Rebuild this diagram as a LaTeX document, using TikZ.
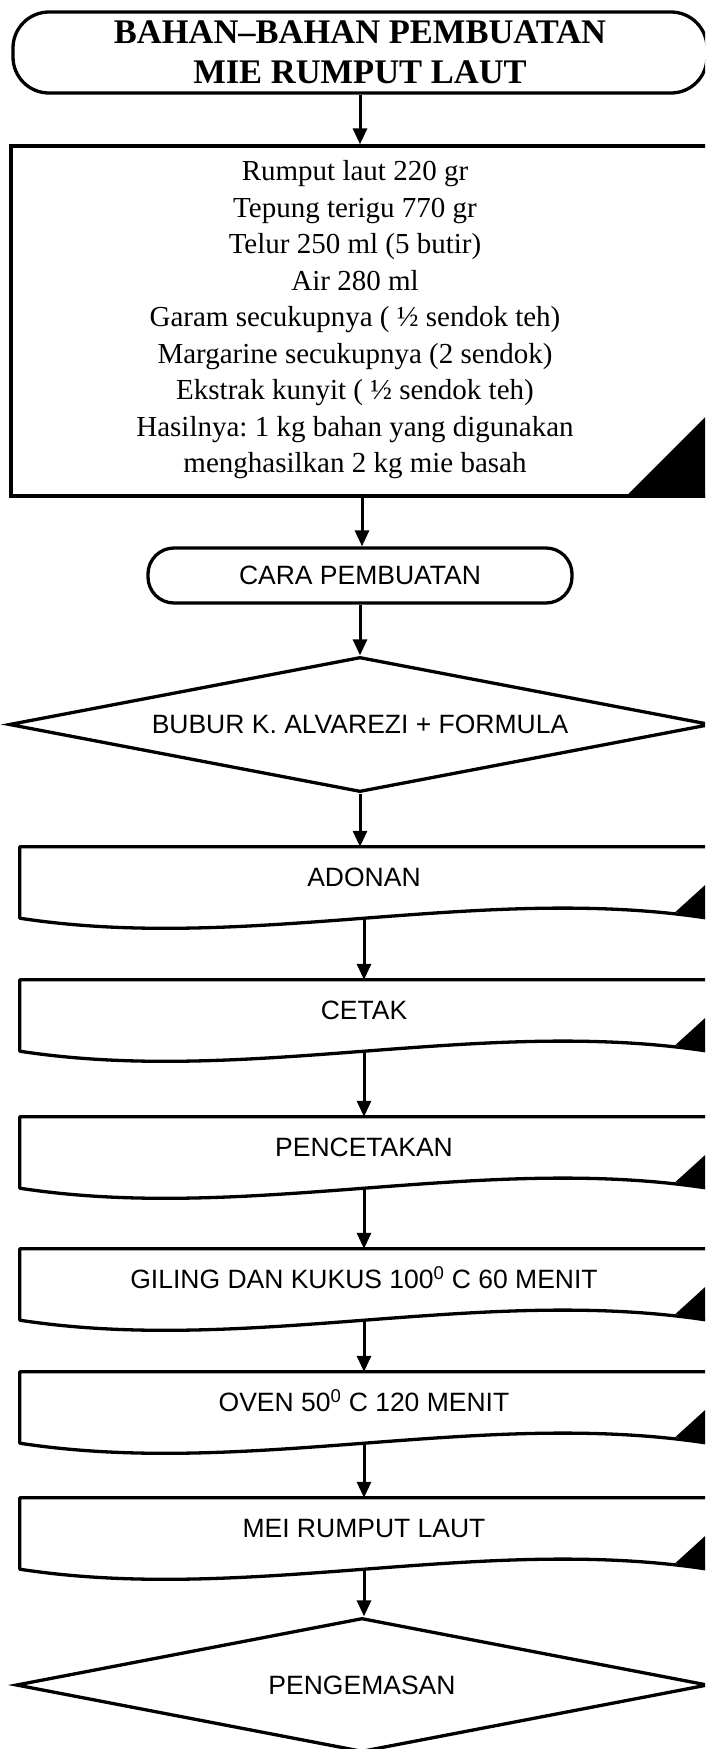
\documentclass[tikz,border=0pt]{standalone}
\usepackage{fontspec}
\setmainfont{Liberation Serif}
\newfontfamily\arialfont{Liberation Sans}
\usetikzlibrary{shapes,arrows.meta}
\frenchspacing

\tikzset{
  outline/.style={draw=black,line width=3.3pt},
  termbox/.style={outline,rounded corners=36pt,inner sep=0pt,align=center},
  docbox/.style={inner sep=0pt,minimum width=688pt,minimum height=71pt,text height=19pt,text depth=11pt,font=\arialfont\fontsize{26.5}{30}\selectfont},
  decbox/.style={shape=diamond,outline,inner sep=0pt,font=\arialfont\fontsize{26.5}{30}\selectfont},
  flow/.style={line width=3pt,-{Triangle[length=16pt,width=14pt]}}
}

\begin{document}
\begin{tikzpicture}[x=1pt,y=-1pt]
\useasboundingbox (0,0) rectangle (705,1749);
\clip (0,0) rectangle (705,1749);

\node[termbox,minimum width=694pt,minimum height=81pt,font=\bfseries\fontsize{34.5}{40}\selectfont] (title) at (360,52.5) {BAHAN–BAHAN PEMBUATAN\\MIE RUMPUT LAUT};
\node[outline,inner sep=0pt,minimum width=702pt,minimum height=350pt] (recipe) at (362,321) {};
\node[inner sep=0pt,align=center,font=\fontsize{29}{36.5}\selectfont] (recipetext) at (355,320) {Rumput laut 220 gr\\Tepung terigu 770 gr\\Telur 250 ml (5 butir)\\Air 280 ml\\Garam secukupnya ( ½ sendok teh)\\Margarine secukupnya (2 sendok)\\Ekstrak kunyit ( ½ sendok teh)\\Hasilnya: 1 kg bahan yang digunakan\\menghasilkan 2 kg mie basah};
\node[termbox,rounded corners=26pt,minimum width=424pt,minimum height=55pt,font=\arialfont\fontsize{26.5}{30}\selectfont] (cara) at (360,575.5) {CARA PEMBUATAN};
\node[decbox,aspect=5.2,minimum width=702pt,minimum height=135pt] (bubur) at (360,724.5) {BUBUR K. ALVAREZI + FORMULA};

\node[docbox] (adonan) at (364,882.5) {ADONAN};
\node[docbox] (cetak) at (364,1015.5) {CETAK};
\node[docbox] (pencetakan) at (364,1152.5) {PENCETAKAN};
\node[docbox] (giling) at (364,1284.5) {GILING DAN KUKUS 100\textsuperscript{0} C 60 MENIT};
\node[docbox] (oven) at (364,1407.5) {OVEN 50\textsuperscript{0} C 120 MENIT};
\node[docbox] (mei) at (364,1533.5) {MEI RUMPUT LAUT};
\node[decbox,aspect=5.16,minimum width=692pt,minimum height=134pt] (kemas) at (362,1685) {PENGEMASAN};

% document outlines with the dark corner
\foreach \n in {adonan,cetak,pencetakan,giling,oven,mei}{
  \draw[outline,line join=round] (\n.north west) -- (\n.north east) -- (\n.south east) .. controls +(-229,-35) and +(229,35) .. (\n.south west) -- cycle;
  \fill (\n.south east) ++(-33,-6) -- ++(33,-30) -- (\n.south east) -- cycle;
}
\fill (recipe.south east) ++(-90,0) -- ++(90,-90) -- (recipe.south east) -- cycle;

\draw[flow] (title.south) -- (title.south |- recipe.north);
\draw[flow] (recipe.south) -- (recipe.south |- cara.north);
\draw[flow] (cara.south) -- (cara.south |- bubur.north);
\draw[flow] (bubur.south) -- (bubur.south |- adonan.north);
\draw[flow] (adonan.south) -- (cetak.north);
\draw[flow] (cetak.south) -- (pencetakan.north);
\draw[flow] (pencetakan.south) -- (giling.north);
\draw[flow] (giling.south) -- (oven.north);
\draw[flow] (oven.south) -- (mei.north);
\draw[flow] (mei.south) -- (mei.south |- kemas.north);

\end{tikzpicture}
\end{document}
